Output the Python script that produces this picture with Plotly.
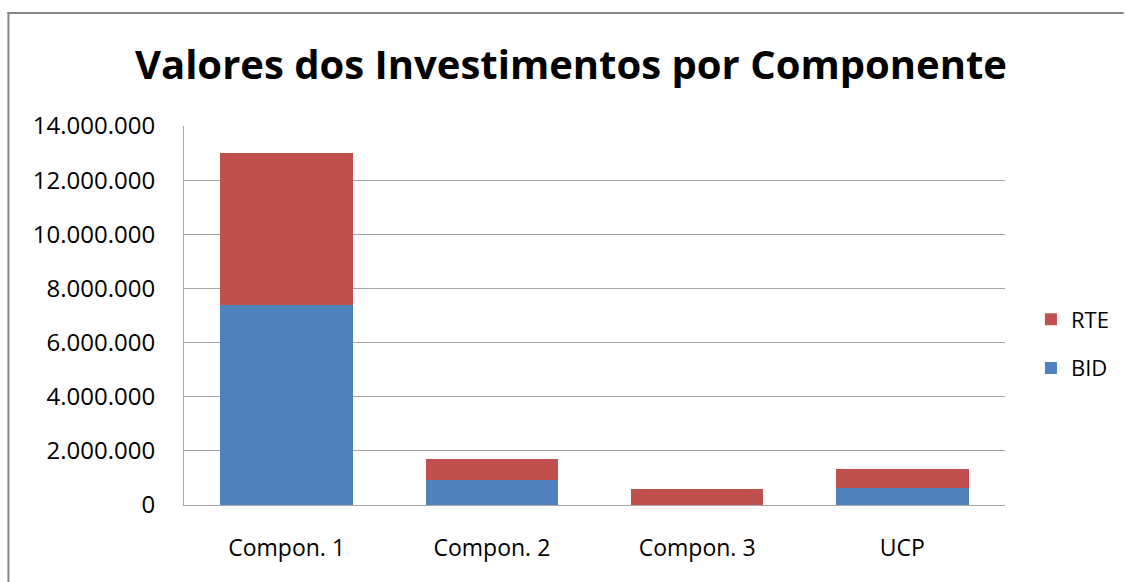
import plotly.graph_objects as go

categories = ["Compon. 1", "Compon. 2", "Compon. 3", "UCP"]
bid_values = [7370000, 920000, 0, 640000]
rte_values = [5630000, 770000, 590000, 680000]
y_ticks = [0, 2000000, 4000000, 6000000, 8000000, 10000000, 12000000, 14000000]

BLUE = "#4F81BD"
RED = "#C0504D"
GRID = "#A6A6A6"
FONT = "Open Sans"

W, H = 1126, 582
PLOT_LEFT, PLOT_RIGHT, PLOT_TOP, PLOT_BOTTOM = 184, 1007, 126, 505
L, T = PLOT_LEFT, PLOT_TOP
R = W - PLOT_RIGHT
B = H - PLOT_BOTTOM
pw, ph = W - L - R, H - T - B

def px_to_paper_x(x):
    return (x - L) / pw

def px_to_paper_y(y):
    return (H - B - y) / ph

fig = go.Figure()
fig.add_trace(go.Bar(name="BID", x=categories, y=bid_values, marker_color=BLUE,
                     marker_line_width=0, legendgroup="bid", legendrank=2))
fig.add_trace(go.Bar(name="RTE", x=categories, y=rte_values, marker_color=RED,
                     marker_line_width=0, legendgroup="rte", legendrank=1))

fig.update_layout(
    width=W, height=H,
    margin=dict(l=L, r=R, t=T, b=B),
    barmode="stack",
    bargap=0.354,
    separators=",.",
    paper_bgcolor="white",
    plot_bgcolor="white",
    font=dict(family=FONT, color="#000000"),
    title=dict(text="<b>Valores dos Investimentos por Componente</b>",
               x=571 / W, xanchor="center", y=1 - 65 / H, yanchor="middle",
               font=dict(family=FONT, size=40, color="#000000")),
    legend=dict(traceorder="grouped", tracegroupgap=17,
                x=px_to_paper_x(1033), xanchor="left",
                y=px_to_paper_y(344), yanchor="middle",
                font=dict(family=FONT, size=22, color="#000000"),
                bgcolor="rgba(0,0,0,0)"),
    showlegend=True,
)

fig.update_yaxes(range=[0, 14000000], tickvals=y_ticks, tickformat=",d",
                 showgrid=True, gridcolor=GRID, gridwidth=1,
                 showline=True, linecolor=GRID, linewidth=1,
                 ticks="", ticklabelstandoff=23,
                 tickfont=dict(family=FONT, size=24, color="#000000"),
                 zeroline=False)
fig.update_xaxes(showline=True, linecolor=GRID, linewidth=1, ticks="",
                 ticklabelstandoff=22,
                 tickfont=dict(family=FONT, size=23, color="#000000"))

# outer chart frame (top and left edges visible in the reference)
fig.add_shape(type="line", xref="paper", yref="paper",
              x0=px_to_paper_x(7), x1=px_to_paper_x(1126),
              y0=px_to_paper_y(13), y1=px_to_paper_y(13),
              line=dict(color="#878787", width=2), layer="below")
fig.add_shape(type="line", xref="paper", yref="paper",
              x0=px_to_paper_x(8), x1=px_to_paper_x(8),
              y0=px_to_paper_y(12), y1=px_to_paper_y(582),
              line=dict(color="#878787", width=2), layer="below")

fig.write_html("out.html",
               config={"displayModeBar": False},
               post_script="document.body.style.margin='0';document.body.style.overflow='hidden';")
